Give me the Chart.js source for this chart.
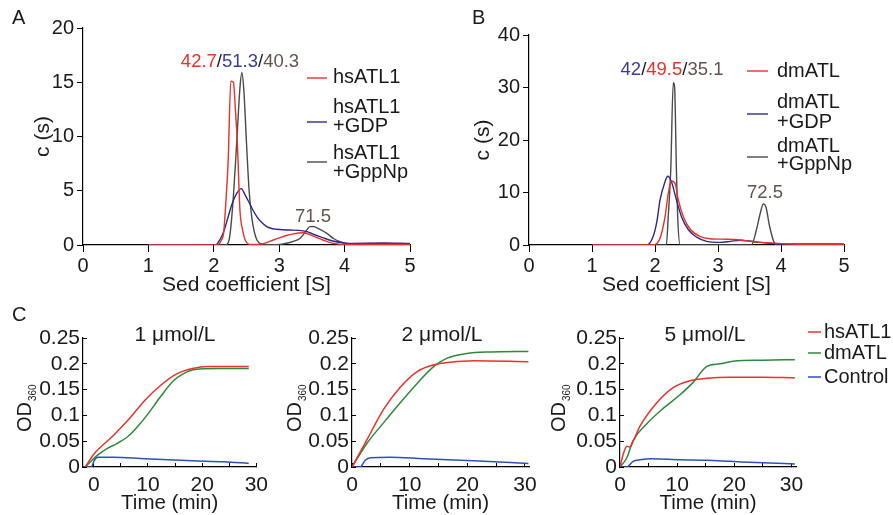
<!DOCTYPE html>
<html><head><meta charset="utf-8">
<script src="https://cdn.jsdelivr.net/npm/chart.js@4.4.1/dist/chart.umd.min.js"></script>
<style>
html,body{margin:0;padding:0;background:#fff;}
body{width:893px;height:515px;position:relative;overflow:hidden;}
.box{position:absolute;}
.box canvas{display:block;}
</style></head>
<body>
<div class="box" style="left:0;top:0;width:450px;height:300px"><canvas id="cA"></canvas></div>
<div class="box" style="left:440px;top:0;width:453px;height:300px"><canvas id="cB"></canvas></div>
<div class="box" style="left:0;top:300px;width:280px;height:215px"><canvas id="c1"></canvas></div>
<div class="box" style="left:280px;top:300px;width:290px;height:215px"><canvas id="c2"></canvas></div>
<div class="box" style="left:548px;top:300px;width:345px;height:215px"><canvas id="c3"></canvas></div>
<script>
// ---------- Panel A: hsATL1 sedimentation (S vs c(s)) ----------
const aRedX  = [1, 2.0, 2.08, 2.12, 2.15, 2.19, 2.22, 2.26, 2.30, 2.33, 2.36, 2.40, 2.44, 2.48, 2.55, 2.65, 2.8, 2.91, 3.0, 3.1, 3.2, 3.3, 3.37, 3.45, 3.55, 3.67, 3.78, 3.88, 4.0, 4.5, 5.0];
const aRedY  = [0, 0, 0.1, 0.5, 1.1, 4.5, 7.8, 15.1, 15.0, 12.5, 9.4, 3.2, 1.4, 0.46, 0.05, 0.05, 0.2, 0.46, 0.65, 0.85, 1.0, 1.1, 1.13, 1.0, 0.75, 0.46, 0.22, 0.1, 0.05, 0.05, 0.05];
const aBlueX = [1, 2.0, 2.05, 2.09, 2.15, 2.22, 2.28, 2.35, 2.42, 2.48, 2.55, 2.6, 2.66, 2.73, 2.81, 2.9, 2.96, 3.05, 3.17, 3.3, 3.42, 3.52, 3.62, 3.72, 3.82, 3.98, 4.2, 4.6, 5.0];
const aBlueY = [0, 0, 0.1, 0.46, 1.2, 2.6, 3.8, 4.76, 5.2, 4.6, 3.8, 3.2, 2.6, 2.1, 1.7, 1.5, 1.45, 1.4, 1.38, 1.35, 1.23, 1.0, 0.77, 0.55, 0.37, 0.2, 0.15, 0.2, 0.15];
const aGrayX = [1, 2.18, 2.22, 2.25, 2.3, 2.35, 2.4, 2.43, 2.46, 2.5, 2.54, 2.58, 2.62, 2.66, 2.72, 2.8, 3.0, 3.1, 3.2, 3.32, 3.4, 3.47, 3.52, 3.6, 3.73, 3.83, 3.93, 4.05, 4.5, 5.0];
const aGrayY = [0, 0, 0.2, 1.07, 4.5, 9.4, 14.5, 15.9, 14.2, 9.4, 5, 2.6, 1.2, 0.46, 0.1, 0.02, 0.05, 0.15, 0.3, 0.62, 1.2, 1.69, 1.7, 1.5, 1.07, 0.6, 0.3, 0.12, 0.15, 0.1];
const aXTicks = [0, 1, 2, 3, 4, 5];
const aYTicks = [0, 5, 10, 15, 20];

// ---------- Panel B: dmATL sedimentation ----------
const bRedX  = [1, 1.97, 2.08, 2.16, 2.21, 2.26, 2.32, 2.37, 2.45, 2.56, 2.72, 2.87, 3.14, 3.35, 3.56, 3.78, 4.1, 4.5, 5];
const bRedY  = [0, 0, 1.3, 5.4, 9.8, 12.2, 11.7, 8.6, 5.4, 3.0, 1.6, 1.2, 1.1, 0.95, 0.6, 0.45, 0.2, 0.15, 0.15];
const bBlueX = [1, 1.87, 1.97, 2.03, 2.08, 2.16, 2.20, 2.26, 2.34, 2.42, 2.53, 2.66, 2.82, 3.03, 3.2, 3.35, 3.5, 3.67, 3.98, 4.5, 5];
const bBlueY = [0, 0, 1.6, 4.5, 8.6, 12.1, 13.1, 12.1, 8.6, 5.4, 2.9, 1.5, 0.7, 0.5, 0.7, 0.9, 0.75, 0.5, 0.2, 0.2, 0.2];
const bGrayX = [1, 2.18, 2.21, 2.25, 2.29, 2.31, 2.34, 2.36, 2.40, 3.53, 3.61, 3.67, 3.72, 3.76, 3.82, 3.90, 3.96, 5];
const bGrayY = [0, 0, 5.4, 14.3, 30.9, 30.3, 14.3, 5.4, 0, 0, 2.9, 6.0, 7.8, 7.3, 3.5, 0.3, 0, 0];
const bXTicks = [0, 1, 2, 3, 4, 5];
const bYTicks = [0, 10, 20, 30, 40];

// ---------- Panel C: OD360 vs time (min) ----------
const c1RedX   = [-1.6, 0.1, 3.6, 6.5, 9.4, 12.3, 15.2, 18.2, 21.1, 28.6];
const c1RedY   = [0, 0.026, 0.061, 0.093, 0.129, 0.158, 0.180, 0.191, 0.195, 0.195];
const c1GreenX = [-1.6, 0.7, 2.5, 4.2, 6.5, 8.3, 10, 12.3, 14.7, 16.4, 18.7, 22.8, 28.6];
const c1GreenY = [0, 0.023, 0.036, 0.045, 0.061, 0.081, 0.103, 0.136, 0.167, 0.180, 0.189, 0.191, 0.191];
const c1BlueX  = [-1.9, -0.5, 0.1, 0.7, 3.6, 9.4, 18.2, 24, 28.6];
const c1BlueY  = [0, 0, 0.013, 0.019, 0.019, 0.016, 0.012, 0.010, 0.007];

const c2RedX   = [0, 2.6, 5.5, 8.4, 11.3, 14.2, 17.1, 21.1, 30.6];
const c2RedY   = [0, 0.053, 0.112, 0.155, 0.185, 0.198, 0.203, 0.206, 0.204];
const c2GreenX = [0, 2.6, 5.5, 8.4, 11.3, 14.2, 16.5, 19.9, 24, 30.6];
const c2GreenY = [0, 0.046, 0.086, 0.125, 0.162, 0.195, 0.211, 0.220, 0.223, 0.224];
const c2BlueX  = [0, 1.4, 2.3, 3.2, 6.6, 12.4, 21.1, 30.6];
const c2BlueY  = [0, 0, 0.013, 0.018, 0.019, 0.016, 0.012, 0.007];

const c3RedX   = [0, 0.6, 1.2, 1.7, 2.3, 3.5, 6.4, 9.3, 12.2, 15.2, 19.2, 25, 30.6];
const c3RedY   = [0, 0.026, 0.040, 0.039, 0.050, 0.079, 0.124, 0.154, 0.167, 0.172, 0.174, 0.174, 0.173];
const c3GreenX = [0, 1.2, 2.3, 4.7, 7.6, 10.5, 12.8, 15.2, 17.5, 19.8, 25, 30.6];
const c3GreenY = [0, 0.018, 0.051, 0.084, 0.114, 0.140, 0.164, 0.195, 0.200, 0.205, 0.207, 0.208];
const c3BlueX  = [0, 1.2, 2.3, 3.5, 5.5, 10.5, 15.2, 19.2, 25, 30.6];
const c3BlueY  = [0, 0, 0.011, 0.014, 0.016, 0.014, 0.013, 0.011, 0.008, 0.006];

const cXTicks = [0, 5, 10, 15, 20, 25, 30];
const cYTicks = [0, 0.05, 0.1, 0.15, 0.2, 0.25];

// ---------- styling ----------
const FAM = '"Liberation Sans", Arial, Helvetica, sans-serif';
Chart.defaults.font.family = FAM;
const TXT = '#1a1a1a';
const RED = '#e5322a', NAVY = '#2b2b8c', GRAY = '#4a4a4a';
const CRED = '#e8332b', CGREEN = '#2e8a38', CBLUE = '#2c50c0';
const ANNO = '#62534f';

function pts(xs, ys) { return xs.map((x, i) => ({ x: x, y: ys[i] })); }

function drawItem(ctx, it) {
  ctx.save();
  if (it.type === 'text') {
    ctx.font = (it.size || 20) + 'px ' + FAM;
    ctx.fillStyle = it.color || TXT;
    ctx.textAlign = it.align || 'left';
    ctx.textBaseline = 'middle';
    ctx.fillText(it.t, it.x, it.y);
  } else if (it.type === 'multi') {
    ctx.font = (it.size || 18) + 'px ' + FAM;
    ctx.textBaseline = 'middle';
    ctx.textAlign = 'left';
    let total = 0;
    it.parts.forEach(p => total += ctx.measureText(p[0]).width);
    let x = it.cx - total / 2;
    it.parts.forEach(p => { ctx.fillStyle = p[1]; ctx.fillText(p[0], x, it.y); x += ctx.measureText(p[0]).width; });
  } else if (it.type === 'line') {
    ctx.strokeStyle = it.color; ctx.lineWidth = it.w || 1.4;
    ctx.beginPath(); ctx.moveTo(it.x1, it.y); ctx.lineTo(it.x2, it.y); ctx.stroke();
  } else if (it.type === 'od') {
    ctx.translate(it.x, it.y);
    ctx.rotate(-Math.PI / 2);
    ctx.fillStyle = TXT;
    ctx.textBaseline = 'alphabetic';
    ctx.textAlign = 'left';
    ctx.font = '20px ' + FAM;
    ctx.fillText('OD', 0, 0);
    const w = ctx.measureText('OD').width;
    ctx.font = '10px ' + FAM;
    ctx.fillText('360', w + 1, 4.5);
  }
  ctx.restore();
}

function textPlugin(items) {
  return { id: 'txt', afterDraw(chart) { items.forEach(it => drawItem(chart.ctx, it)); } };
}

function makeChart(id, cfg) {
  return new Chart(document.getElementById(id), {
    type: 'line',
    data: { datasets: cfg.datasets.map(d => ({
      data: d.data, borderColor: d.color, borderWidth: cfg.lw, pointRadius: 0, fill: false,
      cubicInterpolationMode: 'monotone' })) },
    options: {
      responsive: true, maintainAspectRatio: false, animation: false,
      layout: { padding: cfg.padding },
      plugins: { legend: { display: false }, tooltip: { enabled: false } },
      scales: {
        x: {
          type: 'linear', min: cfg.xmin, max: cfg.xmax,
          afterBuildTicks: s => { s.ticks = cfg.xticks.map(v => ({ value: v })); },
          afterFit: s => { s.height = cfg.xh; },
          ticks: { autoSkip: false, maxRotation: 0, padding: cfg.xpad, color: TXT,
                   font: { size: cfg.tickSize, lineHeight: 1 }, callback: cfg.xfmt },
          grid: { drawOnChartArea: false, drawTicks: true, tickLength: cfg.xtl, color: '#000', lineWidth: 1 },
          border: { display: true, color: '#000', width: 1.2 },
          title: { display: true, text: cfg.xtitle, color: TXT, font: { size: cfg.titleSize, lineHeight: 1 },
                   padding: { top: 0, bottom: cfg.xtpad } }
        },
        y: {
          type: 'linear', min: cfg.ymin, max: cfg.ymax,
          afterBuildTicks: s => { s.ticks = cfg.yticks.map(v => ({ value: v })); },
          afterFit: s => { s.width = cfg.yw; },
          ticks: { autoSkip: false, padding: cfg.ypad, color: TXT,
                   font: { size: cfg.tickSize, lineHeight: 1 }, callback: v => String(v) },
          grid: { drawOnChartArea: false, drawTicks: true, tickLength: cfg.ytl, color: '#000', lineWidth: 1 },
          border: { display: true, color: '#000', width: 1.2 },
          title: { display: !!cfg.ytitle, text: cfg.ytitle || '', color: TXT, font: { size: cfg.titleSize, lineHeight: 1 },
                   padding: { top: cfg.ytpad || 0, bottom: 0 } }
        }
      }
    },
    plugins: [textPlugin(cfg.texts)]
  });
}

// Panel A
makeChart('cA', {
  datasets: [
    { data: pts(aRedX, aRedY), color: RED },
    { data: pts(aBlueX, aBlueY), color: NAVY },
    { data: pts(aGrayX, aGrayY), color: GRAY }
  ],
  lw: 1.4, padding: { left: 0, top: 28, right: 40, bottom: 0 },
  xmin: 0, xmax: 5, ymin: 0, ymax: 20, xticks: aXTicks, yticks: aYTicks,
  xfmt: v => String(v), xh: 55, yw: 83, xtl: 7, ytl: 6, xpad: 4, ypad: 3,
  tickSize: 20, titleSize: 21, xtitle: 'Sed coefficient [S]', xtpad: 4.5, ytitle: 'c (s)', ytpad: 32.5,
  texts: [
    { type: 'text', t: 'A', x: 12, y: 18, size: 20 },
    { type: 'multi', cx: 240, y: 62, size: 18.5, parts: [['42.7', RED], ['/', TXT], ['51.3', '#3b3b9c'], ['/', TXT], ['40.3', ANNO]] },
    { type: 'text', t: '71.5', x: 313, y: 217, size: 18.5, color: ANNO, align: 'center' },
    { type: 'line', x1: 307, x2: 327, y: 78, color: RED },
    { type: 'line', x1: 307, x2: 327, y: 122, color: NAVY },
    { type: 'line', x1: 307, x2: 327, y: 162, color: GRAY },
    { type: 'text', t: 'hsATL1', x: 333, y: 77, size: 20 },
    { type: 'text', t: 'hsATL1', x: 333, y: 107, size: 20 },
    { type: 'text', t: '+GDP', x: 333, y: 126, size: 20 },
    { type: 'text', t: 'hsATL1', x: 333, y: 153, size: 20 },
    { type: 'text', t: '+GppNp', x: 333, y: 172, size: 20 }
  ]
});

// Panel B
makeChart('cB', {
  datasets: [
    { data: pts(bRedX, bRedY), color: RED },
    { data: pts(bBlueX, bBlueY), color: NAVY },
    { data: pts(bGrayX, bGrayY), color: GRAY }
  ],
  lw: 1.4, padding: { left: 0, top: 35, right: 49, bottom: 0 },
  xmin: 0, xmax: 5, ymin: 0, ymax: 40, xticks: bXTicks, yticks: bYTicks,
  xfmt: v => String(v), xh: 55, yw: 89, xtl: 7, ytl: 6, xpad: 4, ypad: 3,
  tickSize: 20, titleSize: 21, xtitle: 'Sed coefficient [S]', xtpad: 4.5, ytitle: 'c (s)', ytpad: 32.5,
  texts: [
    { type: 'text', t: 'B', x: 32, y: 18, size: 20 },
    { type: 'multi', cx: 232, y: 70, size: 18.5, parts: [['42', '#3b3b9c'], ['/', TXT], ['49.5', RED], ['/', TXT], ['35.1', ANNO]] },
    { type: 'text', t: '72.5', x: 325, y: 193, size: 18.5, color: ANNO, align: 'center' },
    { type: 'line', x1: 307, x2: 328, y: 71, color: RED },
    { type: 'line', x1: 307, x2: 328, y: 114, color: NAVY },
    { type: 'line', x1: 307, x2: 328, y: 157, color: GRAY },
    { type: 'text', t: 'dmATL', x: 337, y: 71, size: 20 },
    { type: 'text', t: 'dmATL', x: 337, y: 102, size: 20 },
    { type: 'text', t: '+GDP', x: 337, y: 122, size: 20 },
    { type: 'text', t: 'dmATL', x: 337, y: 146, size: 20 },
    { type: 'text', t: '+GppNp', x: 337, y: 164, size: 20 }
  ]
});

const cCommon = {
  lw: 1.5, ymin: 0, ymax: 0.25, xticks: cXTicks, yticks: cYTicks,
  xfmt: v => (v % 10 === 0 ? String(v) : ''), xh: 48, xtl: -4, ytl: -4, xpad: 12, ypad: 7,
  tickSize: 21, titleSize: 20.5, xtitle: 'Time (min)', xtpad: 1.5
};

makeChart('c1', Object.assign({}, cCommon, {
  datasets: [
    { data: pts(c1RedX, c1RedY), color: CRED },
    { data: pts(c1GreenX, c1GreenY), color: CGREEN },
    { data: pts(c1BlueX, c1BlueY), color: CBLUE }
  ],
  padding: { left: 0, top: 38, right: 12, bottom: 0 }, xmin: -2, xmax: 30, yw: 83,
  texts: [
    { type: 'text', t: 'C', x: 12, y: 15, size: 20 },
    { type: 'text', t: '1 μmol/L', x: 175, y: 35, size: 21, align: 'center' },
    { type: 'od', x: 31, y: 132 }
  ]
}));

makeChart('c2', Object.assign({}, cCommon, {
  datasets: [
    { data: pts(c2RedX, c2RedY), color: CRED },
    { data: pts(c2GreenX, c2GreenY), color: CGREEN },
    { data: pts(c2BlueX, c2BlueY), color: CBLUE }
  ],
  padding: { left: 0, top: 38, right: 41, bottom: 0 }, xmin: 0, xmax: 30.7, yw: 72,
  texts: [
    { type: 'text', t: '2 μmol/L', x: 162, y: 35, size: 21, align: 'center' },
    { type: 'od', x: 21, y: 132 }
  ]
}));

makeChart('c3', Object.assign({}, cCommon, {
  datasets: [
    { data: pts(c3RedX, c3RedY), color: CRED },
    { data: pts(c3GreenX, c3GreenY), color: CGREEN },
    { data: pts(c3BlueX, c3BlueY), color: CBLUE }
  ],
  padding: { left: 0, top: 38, right: 97, bottom: 0 }, xmin: 0, xmax: 30.8, yw: 72,
  texts: [
    { type: 'text', t: '5 μmol/L', x: 157, y: 35, size: 21, align: 'center' },
    { type: 'od', x: 17, y: 132 },
    { type: 'line', x1: 260, x2: 273, y: 32, color: CRED, w: 1.5 },
    { type: 'line', x1: 260, x2: 273, y: 53, color: CGREEN, w: 1.5 },
    { type: 'line', x1: 260, x2: 273, y: 77, color: CBLUE, w: 1.5 },
    { type: 'text', t: 'hsATL1', x: 276, y: 32, size: 20 },
    { type: 'text', t: 'dmATL', x: 276, y: 53, size: 20 },
    { type: 'text', t: 'Control', x: 276, y: 77, size: 20 }
  ]
}));
</script>
</body></html>
